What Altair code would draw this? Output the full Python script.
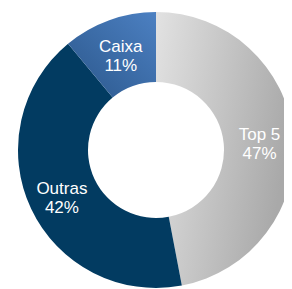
import altair as alt
import pandas as pd

categories = ["Top 5", "Outras", "Caixa"]
values = [47, 42, 11]

fills = {
    "Top 5": alt.Gradient(gradient="linear", x1=0, y1=0, x2=1, y2=0.3,
                          stops=[alt.GradientStop(color="#e2e2e2", offset=0),
                                 alt.GradientStop(color="#a9a9a9", offset=1)]),
    "Outras": "#023b61",
    "Caixa": alt.Gradient(gradient="linear", x1=1, y1=0, x2=0, y2=1,
                          stops=[alt.GradientStop(color="#4c80c2", offset=0),
                                 alt.GradientStop(color="#2b578b", offset=1)]),
}

df = pd.DataFrame({
    "cat": categories,
    "val": values,
    "order": list(range(len(categories))),
    "label": [f"{c}\n{v}%" for c, v in zip(categories, values)],
})

cx, cy = 148, 142
R, r = 138, 68

base = alt.Chart(df).transform_window(
    end="sum(val)", sort=[alt.SortField("order")], frame=[None, 0]
).transform_calculate(start="datum.end - datum.val", mid="datum.end - datum.val/2")

theta_scale = alt.Scale(domain=[0, 100])

layers = []
for c in categories:
    layers.append(
        base.transform_filter(alt.datum.cat == c)
        .mark_arc(outerRadius=R, innerRadius=r, fill=fills[c], stroke=None)
        .encode(
            theta=alt.Theta("start:Q", scale=theta_scale),
            theta2="end:Q",
            x=alt.value(cx), y=alt.value(cy),
        )
    )

labels = base.mark_text(radius=104, dy=-5, fontSize=17, lineHeight=19, lineBreak="\n",
                        font="Liberation Sans", color="white", baseline="middle").encode(
    theta=alt.Theta("mid:Q", scale=theta_scale),
    text="label:N",
    x=alt.value(cx), y=alt.value(cy),
)

chart = alt.layer(*layers, labels).properties(
    width=276, height=281, padding=0, autosize=alt.AutoSizeParams(type="none")
).configure_view(stroke=None)

chart.save("out.html", embed_options={"renderer": "svg", "actions": False})
